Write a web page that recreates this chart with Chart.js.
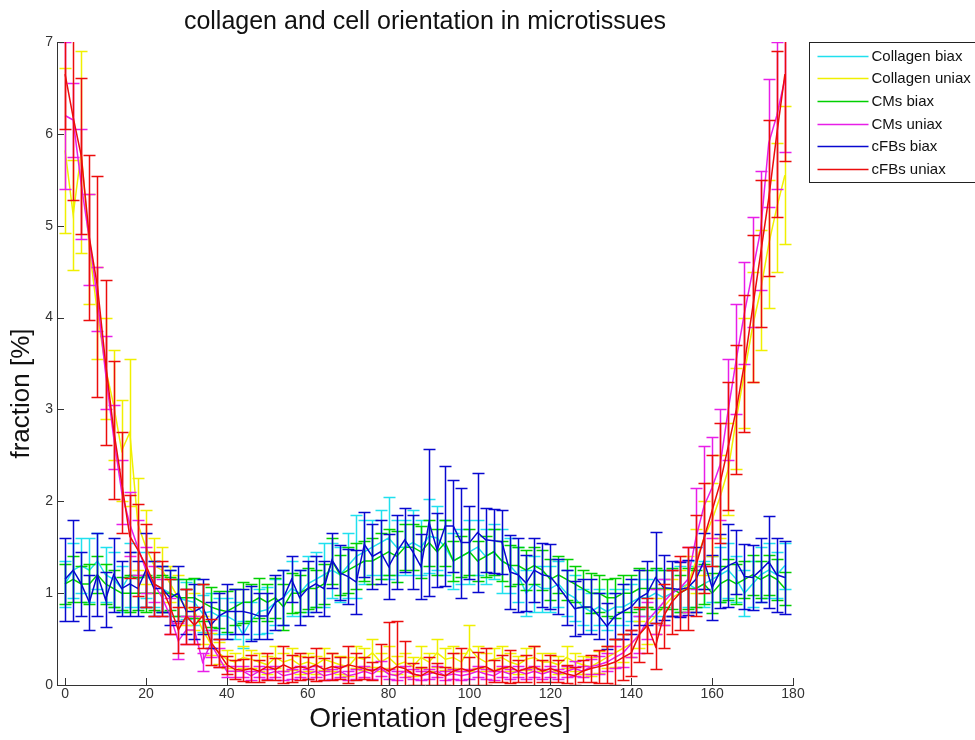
<!doctype html>
<html>
<head>
  <script src="https://cdn.jsdelivr.net/npm/chart.js@4.4.1/dist/chart.umd.min.js"></script>
  <style>
    body { margin: 0; background: #fff; }
  </style>
</head>
<body>
  <canvas id="canvas" width="975" height="740"></canvas>
  <script>
    // orientation bins (degrees)
    const angles = [0, 2, 4, 6, 8, 10, 12, 14, 16, 18, 20, 22, 24, 26, 28, 30, 32, 34, 36, 38,
      40, 42, 44, 46, 48, 50, 52, 54, 56, 58, 60, 62, 64, 66, 68, 70, 72, 74, 76, 78,
      80, 82, 84, 86, 88, 90, 92, 94, 96, 98, 100, 102, 104, 106, 108, 110, 112, 114, 116, 118,
      120, 122, 124, 126, 128, 130, 132, 134, 136, 138, 140, 142, 144, 146, 148, 150, 152, 154, 156, 158,
      160, 162, 164, 166, 168, 170, 172, 174, 176, 178];

    const xTicks = [0, 20, 40, 60, 80, 100, 120, 140, 160, 180];
    const yTicks = [0, 1, 2, 3, 4, 5, 6, 7];

    const seriesLabels = ['Collagen biax', 'Collagen uniax', 'CMs biax', 'CMs uniax', 'cFBs biax', 'cFBs uniax'];
    const seriesColors = ['#20e0ee', '#f0f000', '#00d000', '#e81ee8', '#0808d0', '#ec0c0c'];

    const collagenBiax = [1.10, 1.25, 1.30, 1.25, 1.35, 1.20, 1.15, 1.05, 1.20, 1.15,
      1.20, 1.10, 1.05, 1.00, 0.95, 0.92, 0.90, 0.78, 0.80, 0.75,
      0.75, 0.70, 0.55, 0.70, 0.80, 0.82, 0.90, 0.95, 1.05, 1.00,
      1.10, 1.15, 1.20, 1.25, 1.20, 1.30, 1.40, 1.45, 1.50, 1.55,
      1.60, 1.50, 1.50, 1.55, 1.50, 1.62, 1.60, 1.50, 1.35, 1.40,
      1.45, 1.50, 1.40, 1.45, 1.35, 1.30, 1.20, 1.00, 1.10, 1.05,
      1.05, 1.10, 1.00, 0.95, 0.85, 0.80, 0.85, 0.80, 0.85, 0.85,
      0.90, 0.95, 0.95, 1.00, 0.95, 1.00, 1.05, 1.10, 1.05, 1.10,
      1.15, 1.20, 1.25, 1.15, 1.00, 1.10, 1.20, 1.25, 1.20, 1.30];
    const collagenBiaxErr = [0.25, 0.30, 0.30, 0.35, 0.30, 0.30, 0.30, 0.25, 0.35, 0.30,
      0.25, 0.25, 0.25, 0.25, 0.20, 0.20, 0.25, 0.20, 0.20, 0.20,
      0.20, 0.20, 0.15, 0.20, 0.25, 0.25, 0.25, 0.30, 0.30, 0.25,
      0.30, 0.30, 0.35, 0.30, 0.30, 0.35, 0.45, 0.35, 0.30, 0.35,
      0.45, 0.30, 0.30, 0.35, 0.30, 0.40, 0.35, 0.30, 0.30, 0.30,
      0.35, 0.30, 0.30, 0.30, 0.35, 0.30, 0.30, 0.25, 0.30, 0.25,
      0.25, 0.25, 0.25, 0.25, 0.20, 0.20, 0.20, 0.20, 0.20, 0.20,
      0.20, 0.20, 0.20, 0.25, 0.20, 0.25, 0.25, 0.25, 0.25, 0.25,
      0.25, 0.30, 0.30, 0.25, 0.25, 0.25, 0.30, 0.30, 0.25, 0.25];

    const collagenUniax = [5.82, 5.12, 5.80, 4.75, 4.05, 3.45, 3.05, 2.55, 2.75, 1.75,
      1.50, 1.30, 1.25, 1.10, 0.95, 0.85, 0.80, 0.60, 0.45, 0.35,
      0.28, 0.25, 0.30, 0.28, 0.25, 0.22, 0.30, 0.25, 0.28, 0.22,
      0.25, 0.22, 0.28, 0.25, 0.22, 0.20, 0.30, 0.28, 0.35, 0.25,
      0.30, 0.22, 0.25, 0.20, 0.30, 0.25, 0.35, 0.28, 0.30, 0.25,
      0.40, 0.30, 0.25, 0.28, 0.30, 0.25, 0.22, 0.28, 0.30, 0.25,
      0.25, 0.22, 0.30, 0.25, 0.22, 0.20, 0.25, 0.30, 0.35, 0.40,
      0.45, 0.55, 0.65, 0.75, 0.85, 0.95, 1.00, 1.10, 1.35, 1.60,
      1.80, 2.05, 2.35, 2.90, 3.40, 3.90, 4.30, 4.80, 5.20, 5.55];
    const collagenUniaxErr = [0.90, 0.60, 1.10, 0.60, 0.50, 0.55, 0.60, 0.55, 0.80, 0.50,
      0.40, 0.30, 0.25, 0.20, 0.25, 0.20, 0.20, 0.15, 0.12, 0.12,
      0.10, 0.10, 0.12, 0.10, 0.10, 0.10, 0.12, 0.10, 0.12, 0.10,
      0.10, 0.10, 0.12, 0.10, 0.10, 0.10, 0.12, 0.12, 0.15, 0.10,
      0.12, 0.10, 0.10, 0.10, 0.12, 0.10, 0.15, 0.12, 0.12, 0.10,
      0.25, 0.12, 0.10, 0.12, 0.12, 0.10, 0.10, 0.12, 0.12, 0.10,
      0.10, 0.10, 0.12, 0.10, 0.10, 0.10, 0.12, 0.12, 0.15, 0.15,
      0.15, 0.15, 0.20, 0.20, 0.20, 0.20, 0.25, 0.30, 0.35, 0.40,
      0.40, 0.45, 0.50, 0.55, 0.60, 0.60, 0.65, 0.70, 0.70, 0.75];

    const cmsBiax = [1.10, 1.15, 1.10, 1.10, 1.20, 1.10, 1.05, 1.00, 1.00, 1.00,
      1.00, 1.00, 1.00, 1.00, 0.95, 0.95, 0.95, 0.90, 0.85, 0.82,
      0.80, 0.85, 0.90, 0.90, 0.95, 0.90, 0.95, 0.85, 1.00, 1.00,
      1.05, 1.05, 1.10, 1.35, 1.20, 1.25, 1.30, 1.35, 1.35, 1.40,
      1.45, 1.40, 1.50, 1.50, 1.45, 1.55, 1.45, 1.55, 1.35, 1.40,
      1.45, 1.35, 1.40, 1.45, 1.35, 1.30, 1.30, 1.25, 1.30, 1.25,
      1.15, 1.20, 1.15, 1.10, 1.05, 1.00, 1.00, 0.95, 0.95, 1.00,
      1.00, 1.05, 1.05, 1.05, 1.05, 1.05, 1.00, 1.05, 1.05, 1.10,
      1.00, 1.10, 1.15, 1.10, 1.15, 1.20, 1.15, 1.20, 1.15, 1.05];
    const cmsBiaxErr = [0.22, 0.25, 0.20, 0.22, 0.20, 0.22, 0.20, 0.18, 0.20, 0.18,
      0.20, 0.18, 0.20, 0.18, 0.20, 0.20, 0.22, 0.20, 0.22, 0.20,
      0.22, 0.20, 0.22, 0.20, 0.22, 0.20, 0.22, 0.25, 0.22, 0.20,
      0.22, 0.20, 0.22, 0.25, 0.22, 0.25, 0.25, 0.22, 0.25, 0.25,
      0.25, 0.28, 0.25, 0.25, 0.28, 0.25, 0.25, 0.25, 0.22, 0.22,
      0.25, 0.22, 0.22, 0.25, 0.22, 0.22, 0.20, 0.22, 0.20, 0.22,
      0.22, 0.20, 0.22, 0.20, 0.20, 0.22, 0.20, 0.20, 0.22, 0.20,
      0.20, 0.22, 0.20, 0.22, 0.20, 0.22, 0.20, 0.22, 0.20, 0.22,
      0.22, 0.20, 0.22, 0.22, 0.20, 0.22, 0.20, 0.22, 0.22, 0.18];

    const cmsUniax = [6.20, 6.15, 5.45, 4.85, 4.20, 3.40, 2.70, 2.10, 1.75, 1.50,
      1.25, 1.10, 0.95, 0.75, 0.48, 0.60, 0.60, 0.25, 0.45, 0.30,
      0.15, 0.15, 0.15, 0.10, 0.15, 0.12, 0.15, 0.10, 0.12, 0.15,
      0.12, 0.15, 0.10, 0.12, 0.15, 0.10, 0.12, 0.15, 0.12, 0.18,
      0.12, 0.10, 0.15, 0.12, 0.10, 0.12, 0.15, 0.10, 0.12, 0.10,
      0.12, 0.15, 0.12, 0.10, 0.15, 0.12, 0.15, 0.12, 0.15, 0.12,
      0.15, 0.12, 0.15, 0.18, 0.15, 0.20, 0.22, 0.25, 0.30, 0.35,
      0.45, 0.55, 0.70, 0.80, 0.90, 1.00, 1.05, 1.15, 1.60, 1.95,
      2.15, 2.40, 3.00, 3.55, 4.05, 4.50, 4.95, 5.90, 6.20, 6.60];
    const cmsUniaxErr = [0.80, 0.40, 0.60, 0.50, 0.35, 0.40, 0.35, 0.35, 0.35, 0.30,
      0.25, 0.20, 0.20, 0.20, 0.20, 0.15, 0.15, 0.10, 0.15, 0.10,
      0.06, 0.06, 0.06, 0.05, 0.06, 0.05, 0.06, 0.05, 0.05, 0.06,
      0.05, 0.06, 0.05, 0.05, 0.06, 0.05, 0.05, 0.06, 0.05, 0.08,
      0.05, 0.05, 0.06, 0.05, 0.05, 0.05, 0.06, 0.05, 0.05, 0.05,
      0.05, 0.06, 0.05, 0.05, 0.06, 0.05, 0.06, 0.05, 0.06, 0.05,
      0.06, 0.05, 0.06, 0.08, 0.06, 0.08, 0.10, 0.10, 0.12, 0.15,
      0.15, 0.20, 0.20, 0.25, 0.25, 0.25, 0.30, 0.35, 0.55, 0.65,
      0.55, 0.60, 0.55, 0.60, 0.55, 0.60, 0.65, 0.70, 0.80, 0.80];

    const cfbsBiax = [1.15, 1.25, 1.10, 0.90, 1.20, 0.93, 1.20, 1.05, 1.10, 1.05,
      1.25, 1.05, 1.05, 0.95, 1.00, 0.80, 0.80, 0.85, 0.65, 0.75,
      0.80, 0.80, 0.80, 0.78, 0.75, 0.75, 0.90, 0.95, 1.15, 0.95,
      1.05, 1.10, 1.05, 1.36, 1.22, 1.18, 1.12, 1.53, 1.40, 1.45,
      1.29, 1.45, 1.58, 1.45, 1.29, 1.77, 1.47, 1.73, 1.73, 1.55,
      1.55, 1.66, 1.58, 1.57, 1.56, 1.23, 1.20, 1.11, 1.25, 1.20,
      1.18, 1.07, 0.95, 0.83, 0.85, 0.85, 0.75, 0.64, 0.75, 0.80,
      0.85, 0.95, 1.00, 1.17, 1.06, 1.05, 1.04, 1.06, 1.15, 1.35,
      1.06, 1.24, 1.30, 1.34, 1.18, 1.17, 1.25, 1.34, 1.20, 1.17];
    const cfbsBiaxErr = [0.45, 0.55, 0.35, 0.30, 0.45, 0.30, 0.40, 0.30, 0.35, 0.30,
      0.40, 0.30, 0.25, 0.30, 0.30, 0.25, 0.30, 0.30, 0.25, 0.25,
      0.30, 0.25, 0.25, 0.30, 0.25, 0.25, 0.30, 0.30, 0.25, 0.30,
      0.30, 0.30, 0.30, 0.30, 0.30, 0.30, 0.35, 0.35, 0.35, 0.35,
      0.35, 0.40, 0.35, 0.40, 0.35, 0.80, 0.40, 0.65, 0.50, 0.60,
      0.40, 0.65, 0.35, 0.35, 0.35, 0.40, 0.40, 0.30, 0.35, 0.35,
      0.35, 0.30, 0.30, 0.30, 0.30, 0.30, 0.25, 0.25, 0.25, 0.30,
      0.30, 0.30, 0.35, 0.50, 0.35, 0.30, 0.30, 0.30, 0.35, 0.30,
      0.35, 0.40, 0.45, 0.35, 0.35, 0.35, 0.35, 0.50, 0.40, 0.40];

    const cfbsUniax = [6.65, 6.18, 5.76, 4.87, 4.34, 3.51, 2.78, 2.20, 1.62, 1.47,
      1.30, 1.10, 1.05, 0.85, 0.60, 0.75, 0.65, 0.75, 0.47, 0.35,
      0.22, 0.17, 0.16, 0.18, 0.15, 0.20, 0.17, 0.22, 0.18, 0.20,
      0.18, 0.22, 0.17, 0.20, 0.18, 0.22, 0.20, 0.18, 0.15, 0.20,
      0.15, 0.20, 0.18, 0.12, 0.10, 0.15, 0.12, 0.10, 0.15, 0.18,
      0.15, 0.18, 0.20, 0.15, 0.18, 0.20, 0.15, 0.18, 0.20, 0.15,
      0.18, 0.15, 0.12, 0.10, 0.15, 0.18, 0.20, 0.22, 0.25, 0.30,
      0.35, 0.55, 0.65, 0.42, 0.75, 0.90, 1.00, 1.05, 1.30, 1.60,
      1.90, 2.20, 2.60, 3.00, 3.50, 4.10, 4.70, 5.30, 6.00, 6.65];
    const cfbsUniaxErr = [0.60, 0.90, 0.85, 0.90, 1.20, 0.90, 0.75, 0.55, 0.45, 0.50,
      0.45, 0.35, 0.30, 0.30, 0.25, 0.30, 0.20, 0.35, 0.25, 0.15,
      0.10, 0.10, 0.12, 0.15, 0.12, 0.15, 0.12, 0.20, 0.15, 0.15,
      0.12, 0.18, 0.12, 0.15, 0.12, 0.20, 0.15, 0.12, 0.10, 0.25,
      0.54, 0.50, 0.30, 0.12, 0.10, 0.15, 0.12, 0.10, 0.20, 0.22,
      0.15, 0.18, 0.20, 0.12, 0.15, 0.18, 0.12, 0.15, 0.22, 0.12,
      0.15, 0.12, 0.10, 0.10, 0.12, 0.15, 0.18, 0.20, 0.25, 0.25,
      0.25, 0.30, 0.30, 0.25, 0.35, 0.35, 0.40, 0.45, 0.55, 0.60,
      0.60, 0.65, 0.70, 0.70, 0.75, 0.80, 0.80, 0.85, 0.90, 0.95];

    const seriesValues = [collagenBiax, collagenUniax, cmsBiax, cmsUniax, cfbsBiax, cfbsUniax];
    const seriesErrors = [collagenBiaxErr, collagenUniaxErr, cmsBiaxErr, cmsUniaxErr, cfbsBiaxErr, cfbsUniaxErr];

    const FONT = "'Liberation Sans', Arial, Helvetica, sans-serif";

    // matlab-like errorbars, drawn right after each line so later series sit on top
    const errorBars = {
      id: 'errorBars',
      afterDatasetDraw(chart, args) {
        const ds = chart.data.datasets[args.index];
        const {ctx, chartArea: a, scales: {x, y}} = chart;
        const cap = 6;
        ctx.save();
        ctx.beginPath();
        ctx.rect(a.left, a.top, a.right - a.left, a.bottom - a.top);
        ctx.clip();
        ctx.strokeStyle = ds.borderColor;
        ctx.lineWidth = 1.5;
        ctx.beginPath();
        ds.data.forEach((p, i) => {
          const px = Math.round(x.getPixelForValue(p.x)) + 0.5;
          const top = Math.round(y.getPixelForValue(p.y + ds.err[i])) + 0.5;
          const bot = Math.round(y.getPixelForValue(p.y - ds.err[i])) + 0.5;
          ctx.moveTo(px, top); ctx.lineTo(px, bot);
          ctx.moveTo(px - cap, top); ctx.lineTo(px + cap, top);
          ctx.moveTo(px - cap, bot); ctx.lineTo(px + cap, bot);
        });
        ctx.stroke();
        ctx.restore();
      }
    };

    // inward tick marks, axis labels and a boxed legend outside the axes
    const matlabAxes = {
      id: 'matlabAxes',
      afterDraw(chart) {
        const {ctx, chartArea: a, scales: {x, y}} = chart;
        const len = 7;
        ctx.save();
        ctx.strokeStyle = '#333';
        ctx.lineWidth = 1;
        ctx.beginPath();
        xTicks.forEach(v => {
          const px = Math.round(x.getPixelForValue(v)) + 0.5;
          ctx.moveTo(px, a.bottom); ctx.lineTo(px, a.bottom - len);
        });
        yTicks.forEach(v => {
          const py = Math.round(y.getPixelForValue(v)) + 0.5;
          ctx.moveTo(a.left, py); ctx.lineTo(a.left + len, py);
        });
        ctx.stroke();

        // axis labels
        ctx.fillStyle = '#111';
        ctx.textAlign = 'center';
        ctx.textBaseline = 'middle';
        ctx.font = '28px ' + FONT;
        ctx.fillText('Orientation [degrees]', (a.left + a.right) / 2 + 15, a.bottom + 34);
        ctx.save();
        ctx.translate(a.left - 35, (a.top + a.bottom) / 2 + 30);
        ctx.rotate(-Math.PI / 2);
        ctx.font = '26px ' + FONT;
        ctx.fillText('fraction [%]', 0, 0);
        ctx.restore();

        // legend
        const lx = Math.round(a.right) + 16.5, ly = Math.round(a.top) + 0.5;
        const rowH = 22.7;
        ctx.fillStyle = '#fff';
        ctx.fillRect(lx, ly, 200, 140);
        ctx.strokeStyle = '#222';
        ctx.strokeRect(lx, ly, 200, 140);
        ctx.font = '15px ' + FONT;
        ctx.textBaseline = 'middle';
        ctx.textAlign = 'left';
        chart.data.datasets.forEach((ds, i) => {
          const cy = Math.round(ly + 13 + i * rowH) + 0.5;
          ctx.strokeStyle = ds.borderColor;
          ctx.lineWidth = 1.5;
          ctx.beginPath();
          ctx.moveTo(lx + 8, cy); ctx.lineTo(lx + 59, cy);
          ctx.stroke();
          ctx.fillStyle = '#111';
          ctx.fillText(ds.label, lx + 62, cy);
        });
        ctx.restore();
      }
    };

    const datasets = seriesLabels.map((label, i) => ({
      label: label,
      data: angles.map((a, k) => ({x: a, y: seriesValues[i][k]})),
      err: seriesErrors[i],
      borderColor: seriesColors[i],
      backgroundColor: seriesColors[i],
      borderWidth: 1.5,
      pointRadius: 0,
      tension: 0,
      order: seriesLabels.length - i
    }));

    new Chart(document.getElementById('canvas').getContext('2d'), {
      type: 'line',
      data: { datasets: datasets },
      plugins: [errorBars, matlabAxes],
      options: {
        responsive: false,
        animation: false,
        devicePixelRatio: 1,
        layout: { padding: { left: 0, top: 0, right: 182, bottom: 0 } },
        plugins: {
          legend: { display: false },
          tooltip: { enabled: false },
          title: {
            display: true,
            text: 'collagen and cell orientation in microtissues',
            fullSize: false,
            color: '#111',
            font: { family: FONT, size: 25, weight: 'normal', lineHeight: 1.2 },
            padding: { top: 7, bottom: 5 }
          }
        },
        scales: {
          x: {
            type: 'linear',
            min: -2,
            max: 180,
            afterBuildTicks: s => { s.ticks = xTicks.map(v => ({value: v})); },
            afterFit: s => { s.height = 55; },
            grid: { display: false, drawTicks: false },
            border: { display: true, color: '#333', width: 1 },
            ticks: { color: '#333', padding: 1, maxRotation: 0, font: { family: FONT, size: 14 } }
          },
          y: {
            min: 0,
            max: 7,
            afterBuildTicks: s => { s.ticks = yTicks.map(v => ({value: v})); },
            afterFit: s => { s.width = 57; },
            grid: { display: false, drawTicks: false },
            border: { display: true, color: '#333', width: 1 },
            ticks: { color: '#333', padding: 4, font: { family: FONT, size: 14 } }
          }
        }
      }
    });
  </script>
</body>
</html>
